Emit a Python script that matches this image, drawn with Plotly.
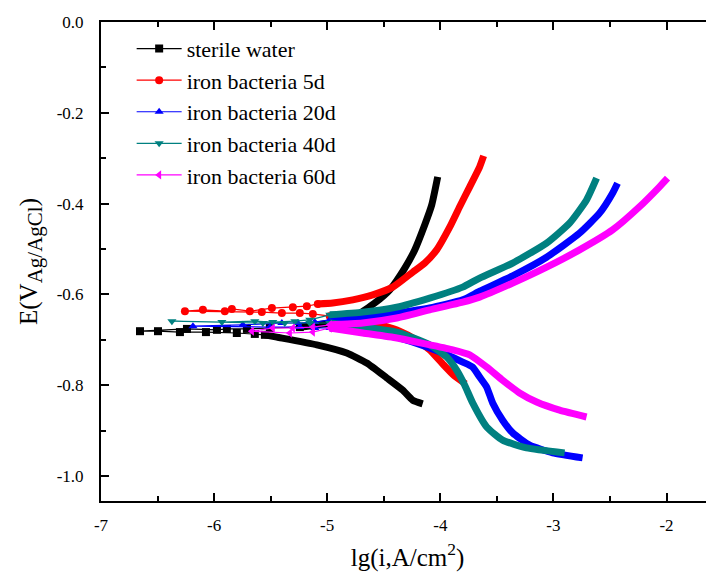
import plotly.graph_objects as go

# ---------------- data (lg i, E) ----------------
# sterile water
sw_cat_x = [-4.156, -4.244, -4.332, -4.473, -4.650, -4.827, -5.092, -5.445, -5.551]
sw_cat_y = [-0.841, -0.833, -0.811, -0.784, -0.751, -0.729, -0.711, -0.694, -0.689]
sw_sp_x = [-5.551, -5.640, -5.799, -6.072, -6.302, -6.496, -6.655, -6.240, -5.975, -5.887, -5.710, -5.507, -5.242]
sw_sp_y = [-0.689, -0.687, -0.685, -0.683, -0.683, -0.681, -0.681, -0.676, -0.678, -0.676, -0.676, -0.674, -0.672]
sw_an_x = [-5.242, -4.977, -4.756, -4.580, -4.447, -4.314, -4.226, -4.138, -4.076, -4.023]
sw_an_y = [-0.672, -0.663, -0.648, -0.619, -0.590, -0.542, -0.502, -0.447, -0.403, -0.341]

# iron bacteria 5d
d5_cat_x = [-3.776, -3.873, -3.979, -4.094, -4.226, -4.359, -4.491, -4.712, -4.977]
d5_cat_y = [-0.797, -0.780, -0.753, -0.722, -0.698, -0.681, -0.670, -0.656, -0.648]
d5_sp_x = [-4.977, -5.127, -5.242, -5.401, -5.578, -6.258, -6.099, -5.905, -5.843, -5.684, -5.489, -5.304, -5.180, -5.083]
d5_sp_y = [-0.648, -0.643, -0.641, -0.641, -0.639, -0.637, -0.634, -0.637, -0.632, -0.637, -0.630, -0.628, -0.626, -0.621]
d5_an_x = [-5.083, -4.951, -4.774, -4.597, -4.420, -4.244, -4.138, -4.032, -3.917, -3.829, -3.740, -3.652, -3.617]
d5_an_y = [-0.621, -0.619, -0.612, -0.601, -0.584, -0.551, -0.531, -0.502, -0.452, -0.407, -0.363, -0.319, -0.295]

# iron bacteria 20d
d20_cat_x = [-2.742, -3.007, -3.210, -3.360, -3.449, -3.537, -3.590, -3.652, -3.714, -3.802, -3.943, -4.094, -4.385, -4.686, -4.977]
d20_cat_y = [-0.960, -0.949, -0.932, -0.905, -0.877, -0.839, -0.804, -0.782, -0.760, -0.749, -0.733, -0.718, -0.694, -0.678, -0.674]
d20_sp_x = [-4.977, -5.110, -5.242, -5.507, -6.187, -5.746, -5.401, -5.260, -5.110, -4.977]
d20_sp_y = [-0.674, -0.674, -0.672, -0.672, -0.670, -0.667, -0.663, -0.663, -0.661, -0.656]
d20_an_x = [-4.977, -4.686, -4.385, -4.094, -3.802, -3.652, -3.360, -3.060, -2.769, -2.592, -2.477, -2.433]
d20_an_y = [-0.656, -0.650, -0.641, -0.630, -0.612, -0.593, -0.559, -0.518, -0.465, -0.421, -0.377, -0.355]

# iron bacteria 40d
d40_cat_x = [-2.901, -3.237, -3.449, -3.590, -3.714, -3.784, -3.855, -3.943, -4.094, -4.385, -4.686, -4.977]
d40_cat_y = [-0.949, -0.938, -0.921, -0.892, -0.839, -0.800, -0.767, -0.738, -0.711, -0.683, -0.672, -0.663]
d40_sp_x = [-4.977, -5.154, -5.375, -5.569, -6.373, -5.931, -5.640, -5.481, -5.286, -5.154, -4.977]
d40_sp_y = [-0.663, -0.663, -0.663, -0.663, -0.659, -0.661, -0.659, -0.661, -0.659, -0.656, -0.645]
d40_an_x = [-4.977, -4.686, -4.385, -4.094, -3.802, -3.652, -3.360, -3.060, -2.857, -2.707, -2.618]
d40_an_y = [-0.645, -0.639, -0.628, -0.608, -0.584, -0.564, -0.531, -0.487, -0.443, -0.392, -0.344]

# iron bacteria 60d
d60_cat_x = [-2.707, -2.945, -3.148, -3.299, -3.449, -3.590, -3.740, -3.890, -4.094, -4.385, -4.686, -4.977]
d60_cat_y = [-0.870, -0.855, -0.837, -0.817, -0.789, -0.760, -0.733, -0.722, -0.711, -0.696, -0.685, -0.674]
d60_sp_x = [-4.977, -5.127, -5.330, -5.666, -5.481, -5.304, -5.127, -4.977]
d60_sp_y = [-0.674, -0.683, -0.685, -0.681, -0.674, -0.674, -0.672, -0.667]
d60_an_x = [-4.977, -4.686, -4.385, -4.094, -3.802, -3.652, -3.360, -3.060, -2.769, -2.477, -2.239, -2.062, -1.991]
d60_an_y = [-0.667, -0.663, -0.652, -0.634, -0.617, -0.606, -0.575, -0.540, -0.502, -0.458, -0.407, -0.363, -0.344]

x_ticks = [-7, -6, -5, -4, -3, -2]
y_ticks = [0.0, -0.2, -0.4, -0.6, -0.8, -1.0]

series = [
    ("sterile water", "#000000", "square", sw_cat_x, sw_cat_y, sw_sp_x, sw_sp_y, sw_an_x, sw_an_y),
    ("iron bacteria 5d", "#FF0000", "circle", d5_cat_x, d5_cat_y, d5_sp_x, d5_sp_y, d5_an_x, d5_an_y),
    ("iron bacteria 20d", "#0000FF", "triangle-up", d20_cat_x, d20_cat_y, d20_sp_x, d20_sp_y, d20_an_x, d20_an_y),
    ("iron bacteria 40d", "#008080", "triangle-down", d40_cat_x, d40_cat_y, d40_sp_x, d40_sp_y, d40_an_x, d40_an_y),
    ("iron bacteria 60d", "#FF00FF", "triangle-left", d60_cat_x, d60_cat_y, d60_sp_x, d60_sp_y, d60_an_x, d60_an_y),
]

fig = go.Figure()
for name, col, sym, cx, cy, sx, sy, ax, ay in series:
    for bx, by in ((cx, cy), (ax, ay)):
        fig.add_trace(go.Scatter(x=bx, y=by, mode="lines", showlegend=False,
                                 line=dict(color=col, width=7, shape="spline", smoothing=0.5),
                                 hoverinfo="skip"))
    fig.add_trace(go.Scatter(x=sx, y=sy, mode="lines+markers", name=name,
                             line=dict(color=col, width=1.2),
                             marker=dict(symbol=sym, size=8, color=col, line=dict(width=0))))

font = "Liberation Serif"
# the page body adds an 8px offset; the figure is sized to fill the rest of the window
fig.update_layout(
    width=706, height=568,
    margin=dict(l=93, r=0, t=14, b=75, autoexpand=False),
    paper_bgcolor="white", plot_bgcolor="white",
    font=dict(family=font, size=17, color="black"),
    showlegend=True,
    legend=dict(x=0.05, y=0.988, xanchor="left", yanchor="top",
                bgcolor="rgba(0,0,0,0)", font=dict(size=22, family=font, color="black"),
                tracegroupgap=0, itemwidth=45),
)
fig.update_xaxes(
    range=[-7, -1.58], tickvals=x_ticks, ticktext=[str(v) for v in x_ticks],
    ticks="inside", ticklen=8, tickwidth=1.5, tickcolor="black",
    minor=dict(dtick=0.5, tick0=-7, ticks="inside", ticklen=5, tickwidth=1.5, tickcolor="black"),
    showline=True, linewidth=2, linecolor="black", mirror="ticks",
    showgrid=False, zeroline=False, ticklabelstandoff=8,
    tickfont=dict(size=17, family=font, color="black"),
    title=dict(text="lg(i,A/cm<sup>2</sup>)", font=dict(size=25, family=font, color="black"), standoff=14),
)
fig.update_yaxes(
    range=[-1.055, 0.0], tickvals=y_ticks, ticktext=["%.1f" % v for v in y_ticks],
    ticks="inside", ticklen=8, tickwidth=1.5, tickcolor="black",
    minor=dict(dtick=0.1, tick0=0, ticks="inside", ticklen=5, tickwidth=1.5, tickcolor="black"),
    showline=True, linewidth=2, linecolor="black", mirror=False,
    showgrid=False, zeroline=False, ticklabelstandoff=12,
    tickfont=dict(size=17, family=font, color="black"),
    title=dict(text="E(V<sub><span style='font-size:21px'>Ag/AgCl</span></sub>)",
               font=dict(size=25, family=font, color="black"), standoff=12),
)
fig.write_html("out.html")
